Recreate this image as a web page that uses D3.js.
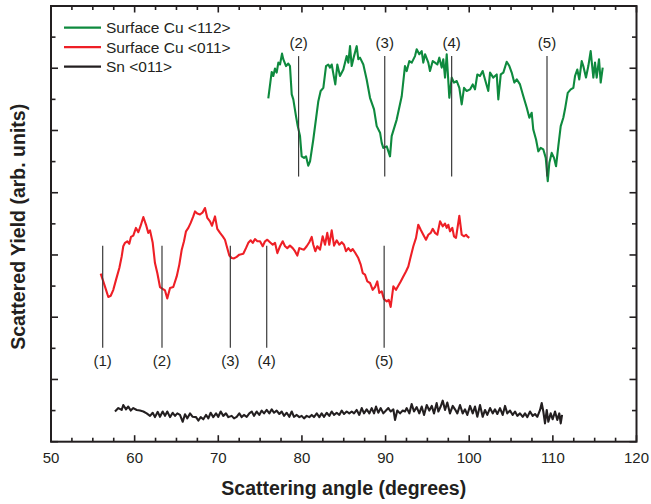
<!DOCTYPE html>
<meta charset="utf-8">
<style>
body { margin: 0; background: #fff; }
text { font-family: "Liberation Sans", Arial, sans-serif; fill: #231f20; }
.frame { fill: none; stroke: #231f20; stroke-width: 2px; }
.tick-line { stroke: #231f20; stroke-width: 1.6px; }
.curve { fill: none; stroke-width: 2.1px; stroke-linejoin: round; }
.marker { stroke: #3a3a3a; stroke-width: 1.2px; }
</style>
<svg width="651" height="504"></svg>
<script src="https://d3js.org/d3.v7.min.js"></script>
<script>

// Surface Cu <112>
var cu112Angle = [75.98,76.27,76.39,76.58,76.78,76.98,77.18,77.38,77.62,77.77,78.10,78.37,78.57,78.78,78.97,79.29,79.50,79.77,79.97,80.25,
  80.49,80.76,80.97,81.36,81.96,82.24,82.56,82.88,83.15,83.36,83.56,83.84,83.99,84.23,84.55,84.95,85.35,85.55,85.75,85.95,
  86.23,86.55,86.74,86.94,87.34,87.74,88.14,88.62,88.94,89.34,89.54,89.73,90.14,90.53,90.73,91.33,91.93,92.32,92.53,92.84,
  93.13,93.52,93.72,94.03,94.32,94.51,94.72,95.11,95.31,95.64,95.91,96.19,96.43,96.71,96.90,97.11,97.31,97.62,97.91,98.18,
  98.51,98.82,99.10,99.38,99.70,100.10,100.42,100.69,100.97,101.29,101.61,101.89,102.28,102.49,102.88,103.29,103.48,103.77,104.08,104.48,
  104.80,105.08,105.39,105.68,106.07,106.47,106.88,107.19,107.47,107.66,107.99,108.26,108.55,108.86,109.15,109.39,109.58,109.86,110.14,110.38,
  110.65,110.94,111.25,111.45,111.78,112.14,112.45,112.65,112.92,113.16,113.45,113.64,113.96,114.24,114.52,114.84,115.04,115.24,115.52,115.72,115.96];
var cu112Yield = [11.03,11.64,11.88,11.75,11.99,11.86,12.18,12.12,12.47,12.29,12.07,12.15,12.07,11.16,11.00,10.46,10.14,9.82,9.17,9.12,
  9.17,8.87,9.01,9.71,10.94,11.27,11.37,12.07,12.12,12.02,12.12,11.70,11.48,12.12,11.75,11.96,12.39,12.18,12.71,12.07,
  12.39,12.71,12.29,12.34,12.12,11.64,11.05,10.68,10.14,9.93,9.60,9.44,9.49,9.17,9.82,10.35,11.10,12.07,11.91,12.23,
  12.18,12.39,12.61,12.45,12.55,12.18,12.45,12.18,11.91,12.23,12.18,12.12,12.34,12.02,12.29,11.70,12.45,11.05,11.70,11.54,
  11.59,11.37,10.84,11.37,11.27,11.32,11.48,11.32,11.80,11.75,11.91,11.64,11.27,11.86,11.70,11.80,11.00,11.80,11.86,12.21,
  12.07,11.86,11.54,11.64,11.48,11.10,10.73,10.41,10.57,10.03,9.71,9.33,9.44,9.39,9.12,8.37,8.96,9.28,9.12,8.85,
  9.49,10.14,10.41,10.68,11.21,11.32,11.37,11.75,11.96,11.64,12.23,12.07,11.70,12.07,12.55,11.70,12.18,11.70,12.29,11.54,12.02];

// Surface Cu <011>
var cu011Angle = [55.94,56.25,56.58,56.85,57.14,57.45,57.77,58.17,58.45,58.64,58.85,59.12,59.36,59.56,59.84,60.16,60.44,60.72,61.04,61.36,
  61.63,61.84,62.16,62.43,62.71,63.03,63.35,63.63,63.90,64.23,64.62,65.03,65.34,65.63,65.90,66.14,66.42,66.70,67.01,67.22,
  67.49,67.81,68.14,68.41,68.69,69.01,69.25,69.61,69.88,70.21,70.53,70.80,71.01,71.32,71.60,71.88,72.20,72.51,72.99,73.31,
  73.59,73.88,74.12,74.39,74.67,74.99,75.31,75.59,75.86,76.18,76.51,76.78,77.06,77.38,77.70,77.98,78.25,78.57,78.90,79.17,
  79.45,79.69,79.97,80.25,80.57,80.88,81.17,81.36,81.60,81.84,82.16,82.48,82.76,83.03,83.27,83.56,83.84,84.16,84.47,84.76,
  85.03,85.27,85.55,85.83,86.07,86.35,86.74,87.03,87.27,87.54,87.82,88.14,88.46,88.74,89.01,89.25,89.54,89.81,90.14,90.38,
  90.61,90.93,91.25,91.52,91.81,92.12,92.44,92.72,93.01,93.32,93.64,93.91,94.20,94.51,94.83,95.11,95.40,95.64,95.91,96.19,
  96.51,96.83,97.11,97.31,97.50,97.70,97.98,98.18,98.42,98.82,99.10,99.38,99.62,99.77,100.01];
var cu011Yield = [5.40,5.15,4.88,4.65,4.69,4.88,5.20,5.58,5.95,6.28,6.39,6.44,6.36,6.58,6.62,6.87,6.73,6.94,7.22,6.97,
  6.71,6.79,6.39,5.74,5.42,4.97,4.91,4.86,4.60,4.94,4.97,5.31,5.69,6.17,6.44,6.76,6.87,7.03,7.24,7.40,
  7.33,7.30,7.37,7.51,7.19,7.08,6.94,7.24,6.84,6.71,6.60,6.49,6.28,5.98,5.90,5.89,5.94,6.01,6.04,6.22,
  6.39,6.47,6.39,6.51,6.44,6.44,6.28,6.44,6.49,6.41,6.33,6.39,6.06,6.28,6.44,6.28,6.22,6.30,6.22,6.12,
  5.98,6.22,6.19,6.17,6.28,6.41,6.58,6.33,6.12,6.28,6.17,6.60,6.33,6.71,6.33,6.79,6.30,6.47,6.33,6.41,
  6.33,6.12,6.22,6.12,6.19,6.08,5.90,5.69,5.42,5.37,5.15,5.10,4.88,4.97,5.15,4.78,4.83,4.58,4.51,4.56,
  4.33,4.99,4.88,5.01,5.15,5.31,5.47,5.63,5.95,6.28,6.55,6.97,6.81,6.65,6.49,6.65,6.71,6.84,6.71,6.65,
  7.08,6.92,7.01,6.87,6.97,6.76,6.87,6.60,6.55,7.26,6.65,6.60,6.65,6.60,6.55];

// Sn <011>
var snAngle = [57.65,58.05,58.45,58.64,58.97,59.24,59.53,59.84,60.25,60.64,61.04,61.44,61.84,62.16,62.43,62.76,63.03,63.35,63.63,63.90,
  64.23,64.55,64.83,65.10,65.42,65.75,66.02,66.30,66.62,66.94,67.34,67.61,67.90,68.21,68.53,68.81,69.09,69.40,69.73,70.00,
  70.29,70.60,70.92,71.20,71.60,71.88,72.20,72.51,72.80,73.07,73.40,73.71,74.00,74.27,74.59,74.90,75.19,75.47,75.79,76.10,
  76.39,76.66,76.98,77.30,77.58,77.86,78.18,78.49,78.78,79.05,79.38,79.69,79.97,80.25,80.57,80.88,81.17,81.44,81.77,82.08,
  82.36,82.64,82.96,83.27,83.56,83.84,84.16,84.47,84.76,85.03,85.35,85.66,85.95,86.23,86.55,86.86,87.15,87.42,87.74,88.06,
  88.34,88.62,88.86,89.13,89.42,89.73,90.05,90.33,90.61,90.93,91.13,91.40,91.73,92.05,92.32,92.53,92.84,93.12,93.40,93.72,
  94.03,94.32,94.60,94.92,95.23,95.52,95.79,96.11,96.31,96.59,96.83,97.11,97.38,97.70,98.03,98.30,98.58,98.90,99.22,99.50,
  99.77,100.10,100.42,100.69,100.97,101.29,101.61,101.89,102.16,102.49,102.81,103.08,103.36,103.68,104.00,104.28,104.55,104.88,105.20,105.48,
  105.75,106.07,106.40,106.67,106.95,107.27,107.59,107.87,108.14,108.47,108.67,108.86,109.06,109.27,109.46,109.74,109.98,110.26,110.53,110.77,
  110.94,111.10];
var snYield = [0.97,1.08,1.02,1.18,1.04,1.13,1.00,1.08,1.02,1.00,0.97,0.91,0.83,0.93,0.79,0.96,0.80,0.97,0.83,0.97,
  0.79,0.93,0.83,0.91,0.86,0.64,0.88,0.75,0.91,0.80,0.79,0.68,0.79,0.72,0.86,0.75,0.93,0.79,0.91,0.80,
  0.97,0.83,0.91,0.79,0.83,0.75,0.80,0.91,0.79,0.86,0.80,0.91,0.97,0.83,0.97,0.86,1.00,0.91,1.02,0.91,
  1.04,0.93,1.00,0.89,0.97,0.83,0.93,0.80,0.97,0.80,0.86,0.79,0.83,0.75,0.83,0.79,0.86,0.79,0.91,0.79,
  0.91,0.80,0.93,0.83,0.97,0.86,0.93,0.86,1.00,0.89,0.97,0.91,0.97,0.91,1.02,0.86,1.08,0.91,1.04,0.91,
  1.08,0.91,1.13,0.93,1.08,0.91,1.00,1.08,0.97,1.04,0.70,1.00,0.91,1.00,0.97,1.08,0.91,1.21,0.97,1.11,
  0.91,1.13,0.86,1.18,1.00,1.15,0.91,1.24,0.97,1.13,1.32,1.02,1.26,0.91,1.15,1.04,0.91,1.18,0.91,1.04,
  0.86,1.15,0.91,1.13,0.80,1.18,0.80,1.02,0.86,1.08,0.91,1.04,0.89,1.08,0.86,1.15,0.91,1.00,0.86,0.97,
  0.83,0.91,0.80,0.91,0.79,0.97,0.83,0.89,0.80,1.02,1.24,0.97,0.59,1.02,0.64,0.91,0.72,0.97,0.70,0.91,
  0.59,0.86];

// channel markers
var cu112Marks = [79.6, 89.9, 97.9, 109.3];
var cu112MarkLabels = ["(2)", "(3)", "(4)", "(5)"];
var cu112MarkRange = [8.52, 12.39];
var cu011Marks = [56.18, 63.27, 71.44, 75.79, 89.83];
var cu011MarkLabels = ["(1)", "(2)", "(3)", "(4)", "(5)"];
var cu011MarkRange = [3.02, 6.30];

var seriesNames = ["Surface Cu <112>", "Surface Cu <011>", "Sn <011>"];
var seriesColors = ["#0e8a3e", "#ee1f26", "#231f20"];

var xTicks = [50, 60, 70, 80, 90, 100, 110, 120];

var svg = d3.select("svg"),
    margin = {top: 6, right: 14.5, bottom: 62.3, left: 51},
    width = +svg.attr("width") - margin.left - margin.right,
    height = +svg.attr("height") - margin.top - margin.bottom,
    g = svg.append("g").attr("transform", "translate(" + margin.left + "," + margin.top + ")");

var x = d3.scaleLinear().domain([50, 120]).range([0, width]);
var y = d3.scaleLinear().domain([0, 14]).range([height, 0]);

// ticks, all pointing inward
var xMinor = d3.range(50, 120.01, 2.5);
var yMinor = d3.range(0, 14.01, 1);
function isMajorX(d) { return Math.abs(d % 10) < 1e-6; }
function isMajorY(d) { return d % 2 === 0; }

g.selectAll(".xb").data(xMinor).enter().append("line")
    .attr("class", "tick-line")
    .attr("x1", x).attr("x2", x)
    .attr("y1", height).attr("y2", function(d) { return height - (isMajorX(d) ? 6.5 : 4); });
g.selectAll(".xt").data(xMinor).enter().append("line")
    .attr("class", "tick-line")
    .attr("x1", x).attr("x2", x)
    .attr("y1", 0).attr("y2", function(d) { return isMajorX(d) ? 6.5 : 4; });
g.selectAll(".yl").data(yMinor).enter().append("line")
    .attr("class", "tick-line")
    .attr("y1", y).attr("y2", y)
    .attr("x1", 0).attr("x2", function(d) { return isMajorY(d) ? 7 : 4.5; });
g.selectAll(".yr").data(yMinor).enter().append("line")
    .attr("class", "tick-line")
    .attr("y1", y).attr("y2", y)
    .attr("x1", width).attr("x2", function(d) { return width - (isMajorY(d) ? 7 : 4.5); });

g.append("rect").attr("class", "frame")
    .attr("width", width).attr("height", height);

g.selectAll(".xlab").data(xTicks).enter().append("text")
    .attr("x", x)
    .attr("y", height + 21.5)
    .attr("text-anchor", "middle")
    .style("font-size", "15px")
    .text(function(d) { return d; });

svg.append("text")
    .attr("x", margin.left + width / 2)
    .attr("y", 495)
    .attr("text-anchor", "middle")
    .style("font-size", "19.5px").style("font-weight", "bold")
    .text("Scattering angle (degrees)");

svg.append("text")
    .attr("transform", "translate(25," + (margin.top + height / 2 + 3) + ") rotate(-90)")
    .attr("text-anchor", "middle")
    .style("font-size", "19.5px").style("font-weight", "bold")
    .text("Scattered Yield (arb. units)");

// curves
function zipSeries(ax, ay) { return ax.map(function(a, i) { return [a, ay[i]]; }); }
var line = d3.line().x(function(d) { return x(d[0]); }).y(function(d) { return y(d[1]); });
var allSeries = [zipSeries(cu112Angle, cu112Yield), zipSeries(cu011Angle, cu011Yield), zipSeries(snAngle, snYield)];

g.selectAll(".curve").data(allSeries).enter().append("path")
    .attr("class", "curve")
    .attr("stroke", function(d, i) { return seriesColors[i]; })
    .attr("d", line);

// marker lines
function drawMarks(marks, labels, range, labelAbove) {
  g.selectAll(null).data(marks).enter().append("line")
      .attr("class", "marker")
      .attr("x1", x).attr("x2", x)
      .attr("y1", y(range[0])).attr("y2", y(range[1]));
  g.selectAll(null).data(marks).enter().append("text")
      .attr("x", x)
      .attr("y", labelAbove ? y(range[1]) - 8 : y(range[0]) + 18.5)
      .attr("text-anchor", "middle")
      .style("font-size", "15px")
      .text(function(d, i) { return labels[i]; });
}
drawMarks(cu112Marks, cu112MarkLabels, cu112MarkRange, true);
drawMarks(cu011Marks, cu011MarkLabels, cu011MarkRange, false);

// legend
var legend = g.append("g").attr("transform", "translate(13,21.7)");
var rows = legend.selectAll("g").data(seriesNames).enter().append("g")
    .attr("transform", function(d, i) { return "translate(0," + (i * 19.5) + ")"; });
rows.append("line")
    .attr("x1", 0).attr("x2", 37)
    .attr("stroke", function(d, i) { return seriesColors[i]; })
    .attr("stroke-width", 2.2);
rows.append("text")
    .attr("x", 42).attr("y", 5.5)
    .style("font-size", "15.5px")
    .text(function(d) { return d; });

</script>
